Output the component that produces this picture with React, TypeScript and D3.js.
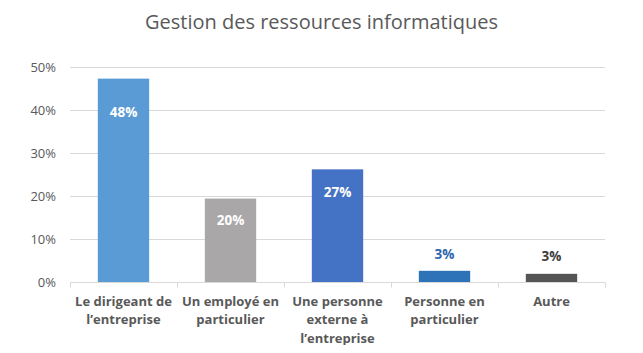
import * as d3 from "d3";
import { useEffect, useRef } from "react";

const categories = [
  ["Le dirigeant de", "l’entreprise"],
  ["Un employé en", "particulier"],
  ["Une personne", "externe à", "l’entreprise"],
  ["Personne en", "particulier"],
  ["Autre"],
];
const values = [0.473, 0.194, 0.262, 0.026, 0.019];
const valueLabels = ["48%", "20%", "27%", "3%", "3%"];
const yTicks = [0, 0.1, 0.2, 0.3, 0.4, 0.5];

const colors = ["#5b9bd5", "#a9a7a7", "#4472c4", "#2e72b8", "#555555"];
const labelColors = ["#ffffff", "#ffffff", "#ffffff", "#2e64b0", "#404040"];
const labelInside = [true, true, true, false, false];
const labelOffset = [34, 22, 23, 17, 18];

const width = 643;
const height = 353;
const margin = { top: 67, right: 38, bottom: 71, left: 70 };

const App = () => {
  const ref = useRef<SVGSVGElement>(null);

  useEffect(() => {
    const svg = d3.select(ref.current);
    svg.selectAll("*").remove();
    const font = "'Open Sans', 'Noto Sans', sans-serif";

    svg.append("rect").attr("width", width).attr("height", height).attr("fill", "#fff");

    svg.append("text")
      .attr("x", width / 2)
      .attr("y", 29)
      .attr("text-anchor", "middle")
      .attr("font-family", font)
      .attr("font-size", 20)
      .attr("fill", "#595959")
      .text("Gestion des ressources informatiques");

    const x = d3.scaleBand<number>()
      .domain(values.map((d, i) => i))
      .range([margin.left, width - margin.right])
      .paddingInner(0.52)
      .paddingOuter(0.26);

    const y = d3.scaleLinear()
      .domain([0, 0.5])
      .range([height - margin.bottom, margin.top]);

    // gridlines
    svg.append("g")
      .selectAll("line")
      .data(yTicks.slice(1))
      .enter().append("line")
      .attr("x1", margin.left)
      .attr("x2", width - margin.right)
      .attr("y1", d => Math.round(y(d)) + 0.5)
      .attr("y2", d => Math.round(y(d)) + 0.5)
      .attr("stroke", "#d9d9d9")
      .attr("stroke-width", 1);

    // y labels
    svg.append("g")
      .selectAll("text")
      .data(yTicks)
      .enter().append("text")
      .attr("x", 56)
      .attr("y", d => y(d))
      .attr("dy", "0.35em")
      .attr("text-anchor", "end")
      .attr("font-family", font)
      .attr("font-size", 13)
      .attr("fill", "#595959")
      .text(d => d3.format(".0%")(d));

    // bars
    svg.append("g")
      .selectAll("rect")
      .data(values)
      .enter().append("rect")
      .attr("x", (d, i) => x(i)!)
      .attr("y", d => y(d))
      .attr("width", x.bandwidth())
      .attr("height", d => y(0) - y(d))
      .attr("fill", (d, i) => colors[i]);

    // x axis line + ticks
    const base = Math.round(y(0)) + 0.5;
    const step = x.step();
    const axis = svg.append("g").attr("stroke", "#d9d9d9");
    axis.append("line")
      .attr("x1", margin.left).attr("x2", width - margin.right)
      .attr("y1", base).attr("y2", base);
    axis.selectAll("line.tick")
      .data(d3.range(values.length + 1))
      .enter().append("line")
      .attr("class", "tick")
      .attr("x1", i => Math.round(margin.left + i * step) + 0.5)
      .attr("x2", i => Math.round(margin.left + i * step) + 0.5)
      .attr("y1", base)
      .attr("y2", base + 5);

    // value labels
    svg.append("g")
      .selectAll("text")
      .data(values)
      .enter().append("text")
      .attr("x", (d, i) => x(i)! + x.bandwidth() / 2)
      .attr("y", (d, i) => y(d) + (labelInside[i] ? labelOffset[i] : -labelOffset[i]))
      .attr("dy", "0.35em")
      .attr("text-anchor", "middle")
      .attr("font-family", font)
      .attr("font-weight", "bold")
      .attr("font-size", 13.5)
      .attr("fill", (d, i) => labelColors[i])
      .text((d, i) => valueLabels[i]);

    // category labels
    const cat = svg.append("g")
      .selectAll("text")
      .data(categories)
      .enter().append("text")
      .attr("x", (d, i) => x(i)! + x.bandwidth() / 2)
      .attr("y", 301)
      .attr("text-anchor", "middle")
      .attr("font-family", font)
      .attr("font-weight", "bold")
      .attr("font-size", 13)
      .attr("fill", "#595959");
    cat.selectAll("tspan")
      .data(d => d)
      .enter().append("tspan")
      .attr("x", function () {
        return (this.parentNode as SVGTextElement).getAttribute("x");
      })
      .attr("dy", (d, i) => (i === 0 ? "0.35em" : "18.5"))
      .text(d => d);
  }, []);

  return (
    <svg ref={ref} width={width} height={height} style={{ display: "block", margin: "-8px" }} />
  );
};

export default App;
